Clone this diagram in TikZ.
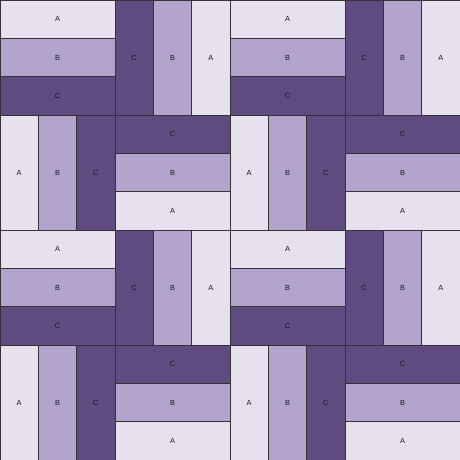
\documentclass[tikz,border=0pt]{standalone}
\usepackage{fontspec}
\setsansfont{Liberation Sans}
\usepackage{xcolor}
\definecolor{Lavender Mist}{HTML}{E7E1EF}
\definecolor{Wisteria}{HTML}{B2A4CC}
\definecolor{Grape}{HTML}{5F4B80}
\colorlet{cA}{Lavender Mist}
\colorlet{cB}{Wisteria}
\colorlet{cC}{Grape}
\usepackage{tikz}
\usetikzlibrary{positioning}
\tikzset{
	node distance = 0pt,
	x = 1cm, y = 1cm,
	font = \sffamily\fontsize{5.5}{6}\selectfont,
	strip/.style={
		draw=black!80,
		line width=.4pt,
		inner sep=0pt,
		outer sep=0pt,
		text=black!90
	},
	hstrip/.style={strip, minimum width=3cm, minimum height=1cm},
	vstrip/.style={strip, minimum width=1cm, minimum height=3cm},
	pA/.style={fill=cA},
	pB/.style={fill=cB},
	pC/.style={fill=cC}
}

\begin{document}
\begin{tikzpicture}
\useasboundingbox (0,0) rectangle (12,-12);
% ---
% 2x2 repeat of the four blocks
% ---
\foreach \bx in {0,2}{
\foreach \by in {0,2}{
	% top left: A, B, C stacked
	\node[hstrip, pA, anchor=north west] at (3*\bx, -3*\by) (h1-\bx-\by-a) {A};
	\node[hstrip, pB, below=of h1-\bx-\by-a] (h1-\bx-\by-b) {B};
	\node[hstrip, pC, below=of h1-\bx-\by-b] (h1-\bx-\by-c) {C};
	% top right: C, B, A side by side
	\node[vstrip, pC, anchor=north west] at (3*\bx+3, -3*\by) (v1-\bx-\by-c) {C};
	\node[vstrip, pB, right=of v1-\bx-\by-c] (v1-\bx-\by-b) {B};
	\node[vstrip, pA, right=of v1-\bx-\by-b] (v1-\bx-\by-a) {A};
	% bottom left: A, B, C side by side
	\node[vstrip, pA, anchor=north west] at (3*\bx, -3*\by-3) (v2-\bx-\by-a) {A};
	\node[vstrip, pB, right=of v2-\bx-\by-a] (v2-\bx-\by-b) {B};
	\node[vstrip, pC, right=of v2-\bx-\by-b] (v2-\bx-\by-c) {C};
	% bottom right: C, B, A stacked
	\node[hstrip, pC, anchor=north west] at (3*\bx+3, -3*\by-3) (h2-\bx-\by-c) {C};
	\node[hstrip, pB, below=of h2-\bx-\by-c] (h2-\bx-\by-b) {B};
	\node[hstrip, pA, below=of h2-\bx-\by-b] (h2-\bx-\by-a) {A};
}}
\end{tikzpicture}
\end{document}
